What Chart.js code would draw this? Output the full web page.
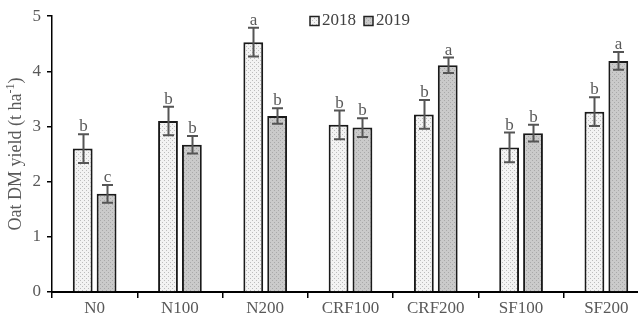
<!DOCTYPE html>
<html lang="en">
<head>
  <meta charset="UTF-8">
  <title>Oat DM yield</title>
  <script src="https://cdn.jsdelivr.net/npm/chart.js"></script>
  <style>
    html, body { margin: 0; padding: 0; background: #fff; overflow: hidden; }
    #wrap { width: 650px; height: 322px; }
  </style>
</head>
<body>
  <div id="wrap"><canvas id="barchart" width="650" height="322"></canvas></div>
  <script>
    // data
    const categories = ['N0', 'N100', 'N200', 'CRF100', 'CRF200', 'SF100', 'SF200'];
    const seriesNames = ['2018', '2019'];
    const yield2018 = [2.60, 3.10, 4.53, 3.03, 3.22, 2.62, 3.27];
    const yield2019 = [1.78, 2.67, 3.19, 2.98, 4.11, 2.88, 4.19];
    const err2018 = [0.26, 0.26, 0.26, 0.26, 0.26, 0.27, 0.26];
    const err2019 = [0.16, 0.16, 0.14, 0.17, 0.14, 0.15, 0.16];
    const letters2018 = ['b', 'b', 'a', 'b', 'b', 'b', 'b'];
    const letters2019 = ['c', 'b', 'b', 'b', 'a', 'b', 'a'];
    const yMin = 0, yMax = 5, yStep = 1;

    const serif = "'Liberation Serif', 'Times New Roman', serif";
    const textGrey = '#595959';

    // dotted fills like the original
    function makePattern(base, dot) {
      const c = document.createElement('canvas');
      c.width = 4; c.height = 4;
      const g = c.getContext('2d');
      g.fillStyle = base;
      g.fillRect(0, 0, 4, 4);
      g.fillStyle = dot;
      g.fillRect(0, 0, 1, 1);
      g.fillRect(2, 2, 1, 1);
      return g.createPattern(c, 'repeat');
    }
    const ctx = document.getElementById('barchart').getContext('2d');
    const fill2018 = makePattern('#f3f3f3', '#bdbdbd');
    const fill2019 = makePattern('#cacaca', '#a9a9a9');

    const errors = [err2018, err2019];
    const letters = [letters2018, letters2019];

    // error bars + significance letters
    const errorBars = {
      id: 'errorBars',
      afterDatasetsDraw(chart) {
        const c = chart.ctx;
        const ys = chart.scales.y;
        c.save();
        chart.data.datasets.forEach(function (ds, i) {
          const meta = chart.getDatasetMeta(i);
          meta.data.forEach(function (bar, j) {
            const v = ds.data[j];
            const e = errors[i][j];
            const top = ys.getPixelForValue(v + e);
            const bot = ys.getPixelForValue(v - e);
            const x = Math.round(bar.x) + 0.5;
            c.strokeStyle = '#555';
            c.lineWidth = 2;
            c.beginPath();
            c.moveTo(x, top); c.lineTo(x, bot);
            c.moveTo(x - 5.5, top); c.lineTo(x + 5.5, top);
            c.moveTo(x - 5.5, bot); c.lineTo(x + 5.5, bot);
            c.stroke();
            c.fillStyle = textGrey;
            c.font = '17px ' + serif;
            c.textAlign = 'center';
            c.textBaseline = 'alphabetic';
            c.fillText(letters[i][j], x, top - 3);
          });
        });
        c.restore();
      }
    };

    // legend and axis title with superscript
    const extras = {
      id: 'extras',
      afterDraw(chart) {
        const c = chart.ctx;
        c.save();
        // legend
        const fills = [fill2018, fill2019];
        const lx = [310, 364];
        c.font = '17px ' + serif;
        c.textBaseline = 'middle';
        c.textAlign = 'left';
        seriesNames.forEach(function (name, i) {
          c.fillStyle = fills[i];
          c.fillRect(lx[i], 16.5, 9, 9);
          c.strokeStyle = '#222';
          c.lineWidth = 1.5;
          c.strokeRect(lx[i], 16.5, 9, 9);
          c.fillStyle = '#404040';
          c.fillText(name, lx[i] + 12, 21);
        });
        // y title
        const main = 'Oat DM yield (t ha';
        const sup = '-1';
        const tail = ')';
        c.translate(16, 154);
        c.rotate(-Math.PI / 2);
        c.font = '18px ' + serif;
        const w1 = c.measureText(main).width;
        const w3 = c.measureText(tail).width;
        c.font = '12px ' + serif;
        const w2 = c.measureText(sup).width;
        let x0 = -(w1 + w2 + w3) / 2;
        c.fillStyle = textGrey;
        c.textBaseline = 'middle';
        c.font = '18px ' + serif;
        c.fillText(main, x0, 0);
        c.font = '12px ' + serif;
        c.fillText(sup, x0 + w1, -5.5);
        c.font = '18px ' + serif;
        c.fillText(tail, x0 + w1 + w2, 0);
        c.restore();
      }
    };

    const chart = new Chart(ctx, {
      type: 'bar',
      data: {
        labels: categories,
        datasets: [{
          label: seriesNames[0],
          data: yield2018,
          backgroundColor: fill2018,
          borderColor: '#1a1a1a',
          borderWidth: 2,
          borderSkipped: 'bottom'
        }, {
          label: seriesNames[1],
          data: yield2019,
          backgroundColor: fill2019,
          borderColor: '#1a1a1a',
          borderWidth: 2,
          borderSkipped: 'bottom'
        }]
      },
      options: {
        responsive: false,
        animation: false,
        categoryPercentage: 0.56,
        barPercentage: 0.83,
        layout: { padding: { top: 15, right: 1, left: 0, bottom: 0 } },
        plugins: {
          legend: { display: false },
          tooltip: { enabled: false }
        },
        scales: {
          x: {
            afterFit(scale) { scale.height = 30; },
            grid: {
              display: true,
              offset: true,
              drawOnChartArea: false,
              drawTicks: true,
              tickLength: 6,
              color: '#000',
              lineWidth: 1.5
            },
            border: { color: '#000', width: 2 },
            ticks: {
              color: textGrey,
              font: { family: serif, size: 17 },
              padding: 0,
              maxRotation: 0,
              autoSkip: false
            }
          },
          y: {
            min: yMin,
            max: yMax,
            afterFit(scale) { scale.width = 52; },
            grid: {
              display: true,
              drawOnChartArea: false,
              drawTicks: true,
              tickLength: 5,
              color: '#000',
              lineWidth: 1.5
            },
            border: { color: '#000', width: 1.5 },
            ticks: {
              stepSize: yStep,
              color: textGrey,
              font: { family: serif, size: 17 },
              padding: 6
            }
          }
        }
      },
      plugins: [errorBars, extras]
    });
  </script>
</body>
</html>
